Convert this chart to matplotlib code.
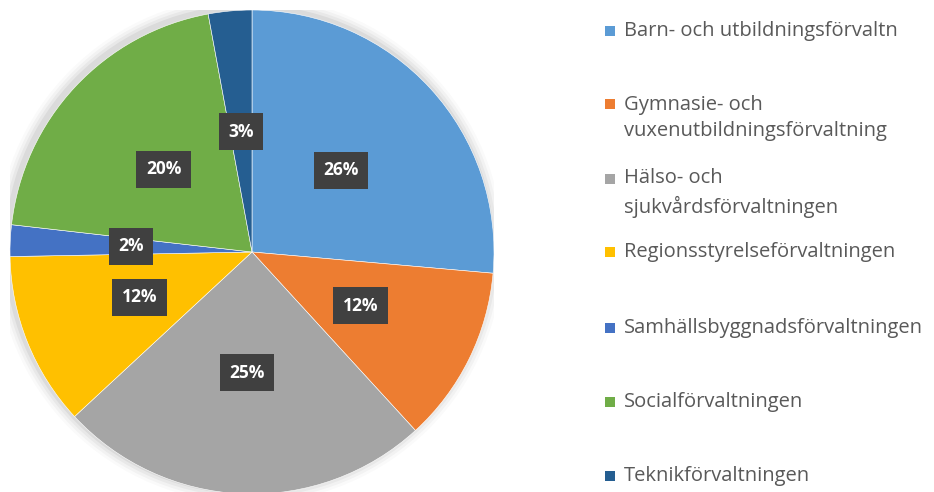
import matplotlib
matplotlib.use("Agg")
import matplotlib.pyplot as plt
from matplotlib.patches import Rectangle, Circle

categories = ["Barn- och utbildningsförvaltn",
              "Gymnasie- och\nvuxenutbildningsförvaltning",
              "Hälso- och\nsjukvårdsförvaltningen",
              "Regionsstyrelseförvaltningen",
              "Samhällsbyggnadsförvaltningen",
              "Socialförvaltningen",
              "Teknikförvaltningen"]
values = [26.4, 11.8, 24.9, 11.6, 2.1, 20.3, 2.9]
colors = ["#5B9BD5", "#ED7D31", "#A5A5A5", "#FFC000", "#4472C4", "#70AD47", "#255E91"]
legend_y = [31, 118, 193, 252, 328, 402, 476]  # pixel centres of legend rows

W, H = 934, 492
fig = plt.figure(figsize=(W/100, H/100), dpi=100)
fig.patch.set_facecolor("white")
cx, cy, R = 252, 252, 242
ax = fig.add_axes([(cx-R)/W, (H-cy-R)/H, 2*R/W, 2*R/H])
ax.set_xlim(-1, 1); ax.set_ylim(-1, 1); ax.set_aspect("equal"); ax.axis("off")

# soft shadow
for i, a in enumerate([0.05, 0.04, 0.03, 0.02]):
    ax.add_patch(Circle((-0.01, 0.01), 1.0 + 0.012*(i+1), color="black", alpha=a, lw=0, zorder=0))

wedges, texts, autotexts = ax.pie(values, colors=colors, startangle=90, counterclock=False,
                                  radius=1.0, autopct=lambda p: f"{p:.0f}%", pctdistance=0.5,
                                  wedgeprops=dict(edgecolor="white", linewidth=0.4),
                                  textprops=dict(color="white", fontsize=12.5, fontweight="bold",
                                                 family="Open Sans"))
for t in autotexts:
    t.set_bbox(dict(boxstyle="square,pad=0.55", facecolor="#404040", edgecolor="none"))
ax.set_xlim(-1, 1); ax.set_ylim(-1, 1)

for lab, c, y in zip(categories, colors, legend_y):
    nlines = lab.count("\n") + 1
    first_y = y if nlines == 1 else y - 14
    fig.patches.append(Rectangle(((605)/W, (H-first_y-5)/H), 10/W, 10/H, transform=fig.transFigure,
                                 facecolor=c, edgecolor="none", figure=fig))
    fig.text(624/W, (H-y)/H, lab, ha="left", va="center", fontsize=14.5, color="#595959",
             family="Open Sans", linespacing=1.45)

fig.savefig("out.png", dpi=100)
